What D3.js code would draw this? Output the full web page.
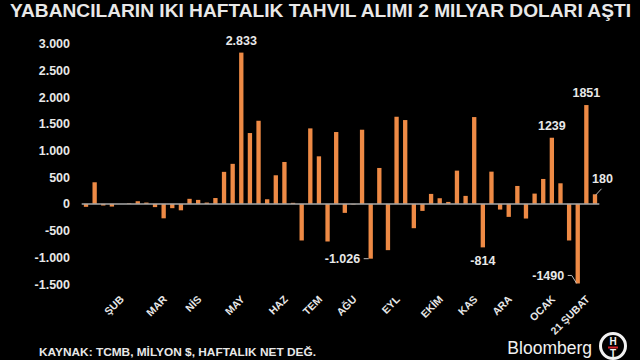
<!DOCTYPE html>
<html>
<head>
<meta charset="utf-8">
<script src="https://cdn.jsdelivr.net/npm/d3@7"></script>
<style>
  body { margin: 0; background: #000; }
  text { font-family: "Liberation Sans", Arial, sans-serif; }
</style>
</head>
<body>
<div id="chart"></div>
<script>
// weekly net flows, million $
var values = [-55, 405, -30, -50, 0, 10, 50, 25, -60, -270,
  -80, -120, 95, 75, 25, 110, 600, 750, 2833, 1327,
  1557, 87, 536, 785, 20, -685, 1414, 891, -704, 1346,
  -168, -10, 1389, -1026, 673, -866, 1632, 1570, -455, -131,
  187, 106, 37, 623, 150, 1626, -814, 604, -106, -243,
  336, -274, 193, 467, 1239, 386, -685, -1490, 1851, 180];

var monthLabels = ["ŞUB", "MAR", "NİS", "MAY", "HAZ", "TEM", "AĞU", "EYL", "EKİM", "KAS", "ARA", "OCAK", "21 ŞUBAT"];
var monthIndex = [4, 9, 13, 18, 23, 27, 31, 36, 41, 45, 49, 54, 58];

var yTicks = [3000, 2500, 2000, 1500, 1000, 500, 0, -500, -1000, -1500];

var calloutIndex = [18, 33, 46, 54, 57, 58, 59];
var calloutText = ["2.833", "-1.026", "-814", "1239", "-1490", "1851", "180"];

var width = 640, height = 360;
var orange = "#ee8a45", fg = "#e8e8e8";

var svg = d3.select("#chart").append("svg")
  .attr("width", width).attr("height", height)
  .style("background", "#000");

var x = d3.scaleBand().domain(d3.range(values.length))
  .range([81.7, 599.3]).paddingInner(0.5).paddingOuter(0.25);
var y = d3.scaleLinear().domain([-1500, 3000]).range([284, 43.7]);

var loc = d3.formatLocale({decimal: ",", thousands: ".", grouping: [3], currency: ["", ""], minus: "-"});
var fmt = loc.format(",d");

// title
svg.append("text")
  .attr("x", 10).attr("y", 17)
  .attr("textLength", 621).attr("lengthAdjust", "spacingAndGlyphs")
  .style("font-size", "18.5px").style("font-weight", "bold").style("fill", fg)
  .text("YABANCILARIN IKI HAFTALIK TAHVIL ALIMI 2 MILYAR DOLARI AŞTI");

// y axis
var yAxis = d3.axisLeft(y).tickValues(yTicks).tickSize(0).tickPadding(0).tickFormat(fmt);
var gy = svg.append("g").attr("transform", "translate(70,0)").call(yAxis);
gy.select(".domain").remove();
gy.selectAll("text")
  .style("font-size", "12.5px").style("font-weight", "bold")
  .style("fill", fg).style("font-family", "Liberation Sans, Arial, sans-serif");

// bars
svg.selectAll(".bar")
  .data(values)
  .enter().append("rect")
  .attr("class", "bar")
  .attr("x", function(d, i) { return x(i); })
  .attr("width", x.bandwidth())
  .attr("y", function(d) { return d >= 0 ? y(d) : y(0); })
  .attr("height", function(d) { return Math.abs(y(d) - y(0)); })
  .style("fill", orange);

// zero line
svg.append("line")
  .attr("x1", x.range()[0]).attr("x2", x.range()[1])
  .attr("y1", y(0)).attr("y2", y(0))
  .style("stroke", "#a8a8a8").style("stroke-width", 1.5);

// month labels
svg.selectAll(".mlab")
  .data(monthLabels)
  .enter().append("text")
  .attr("class", "mlab")
  .attr("transform", function(d, i) {
    return "translate(" + (x(monthIndex[i]) + x.bandwidth() / 2 + 4) + ",300) rotate(-45)";
  })
  .style("text-anchor", "end")
  .style("font-size", "10.5px").style("font-weight", "bold").style("fill", fg)
  .text(function(d) { return d; });

// callouts
var cx = function(i) { return x(i) + x.bandwidth() / 2; };
var cg = svg.append("g")
  .style("font-size", "12.5px").style("font-weight", "bold").style("fill", fg);

calloutIndex.forEach(function(idx, k) {
  var v = values[idx], bx = cx(idx), by = y(v), t = calloutText[k];
  var tx = bx, ty, anchor = "middle";
  if (t == "-1.026") {
    tx = bx - 10.5; ty = by + 4.5; anchor = "end";
    svg.append("line").attr("x1", bx - 7).attr("x2", bx - 2).attr("y1", by).attr("y2", by)
      .style("stroke", "#bbb").style("stroke-width", 1);
  } else if (t == "-1490") {
    tx = bx - 13.5; ty = by - 3.5; anchor = "end";
    svg.append("path")
      .attr("d", "M" + (bx - 10) + "," + (by - 8) + "H" + (bx - 6) + "L" + (bx - 1) + "," + by)
      .style("fill", "none").style("stroke", "#bbb").style("stroke-width", 1);
  } else if (t == "180") {
    tx = bx + 7.5; ty = by - 11;
    svg.append("line").attr("x1", bx + 6.5).attr("y1", by - 5.5).attr("x2", bx + 0.5).attr("y2", by + 1)
      .style("stroke", "#bbb").style("stroke-width", 1);
  } else if (v < 0) {
    ty = by + 18;
  } else {
    ty = by - 8;
  }
  cg.append("text").attr("x", tx).attr("y", ty).style("text-anchor", anchor).text(t);
});

// source
svg.append("text")
  .attr("x", 39).attr("y", 356)
  .attr("textLength", 277).attr("lengthAdjust", "spacingAndGlyphs")
  .style("font-size", "11px").style("font-weight", "bold").style("fill", fg)
  .text("KAYNAK: TCMB, MİLYON $, HAFTALIK NET DEĞ.");

// logo
svg.append("text")
  .attr("x", 592).attr("y", 354)
  .style("text-anchor", "end")
  .style("font-size", "17.5px").style("fill", "#f2f2f2")
  .text("Bloomberg");

var logo = svg.append("g").attr("transform", "translate(613,346)");
logo.append("circle").attr("r", 12.5)
  .style("fill", "#000").style("stroke", "#f2f2f2").style("stroke-width", 3);
logo.append("text").attr("y", -1.5).style("text-anchor", "middle")
  .style("font-size", "10px").style("font-weight", "bold").style("fill", "#f2f2f2").text("H");
logo.append("rect").attr("x", -5).attr("y", 0.5).attr("width", 10).attr("height", 2)
  .style("fill", "#d3222a");
logo.append("text").attr("y", 11).style("text-anchor", "middle")
  .style("font-size", "10px").style("font-weight", "bold").style("fill", "#f2f2f2").text("T");
</script>
</body>
</html>
